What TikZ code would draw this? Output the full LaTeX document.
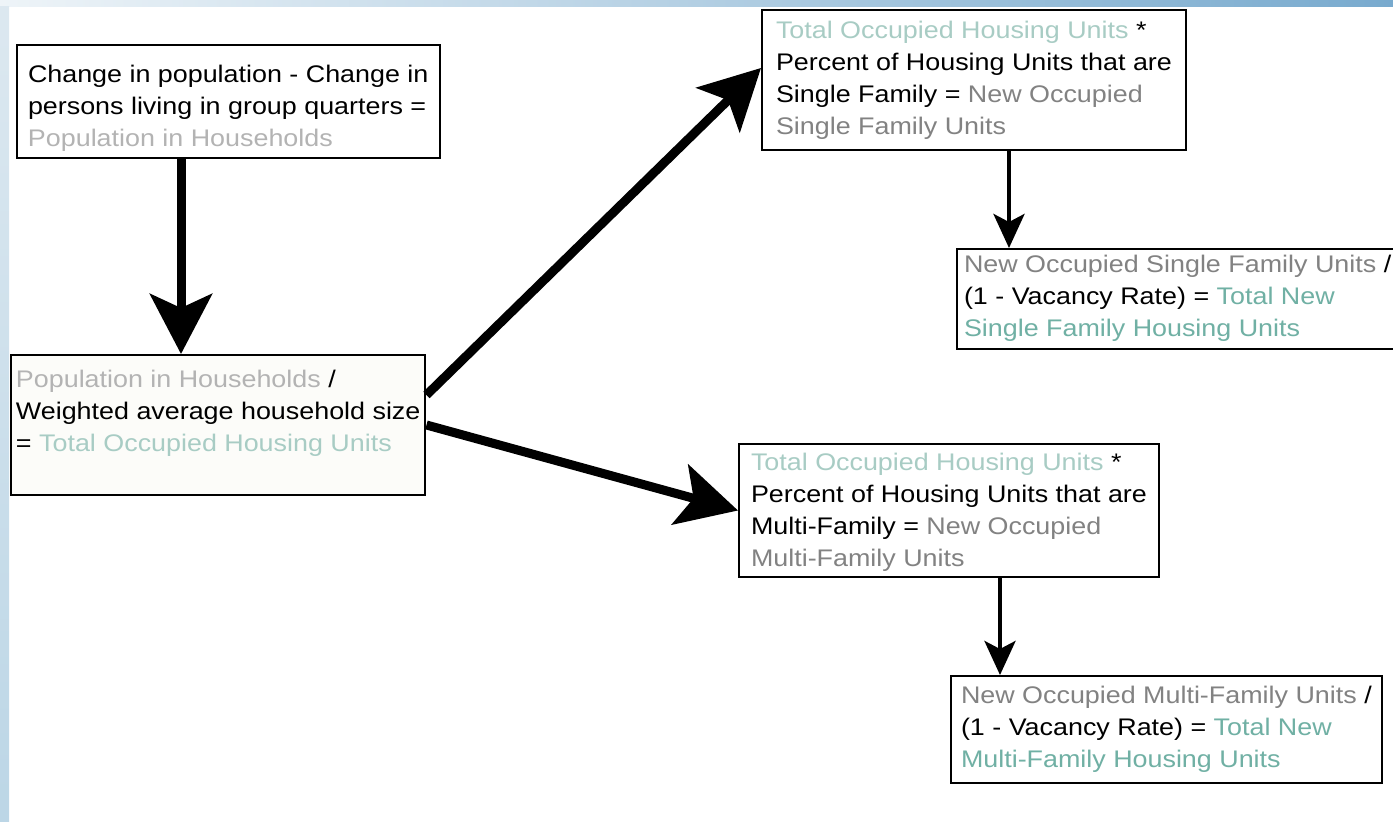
\documentclass[tikz,border=0pt]{standalone}
\usepackage{fontspec}
\setmainfont{Liberation Sans}[FakeStretch=1.12]
\usepackage{xcolor}
\usetikzlibrary{arrows.meta}

\definecolor{hhgray}{HTML}{B3B3B3}
\definecolor{unitteal}{HTML}{A8CCC4}
\definecolor{newgray}{HTML}{828282}
\definecolor{totalteal}{HTML}{70B0A4}
\definecolor{bandpale}{HTML}{EEF4F8}
\definecolor{bandblue}{HTML}{78AACE}
\definecolor{sidetop}{HTML}{DCE8F0}
\definecolor{sidebottom}{HTML}{BCD6E6}
\definecolor{boxcream}{HTML}{FCFCF9}

\begin{document}
\begin{tikzpicture}[
    x=0.5pt, y=-0.5pt,
    calcbox/.style={rectangle, draw, line width=1pt, fill=white, anchor=north west, align=left, inner ysep=0pt, font=\fontsize{12}{16}\selectfont},
    bigarrow/.style={line width=4.5pt, -{Stealth[length=30pt, width=31pt, inset=7pt]}},
    smallarrow/.style={line width=2.2pt, -{Stealth[length=17pt, width=15.5pt, inset=4pt]}}
]
\useasboundingbox (0,0) rectangle (1393,822);
\shade [left color=bandpale, right color=bandblue] (0,0) rectangle (1393,7);
\shade [top color=sidetop, bottom color=sidebottom] (0,7) rectangle (9,822);

\node [calcbox, inner xsep=5.5pt, text height=50.75pt, text depth=5.5pt] (popchange) at (16,44.5) {Change in population - Change in\\persons living in group quarters =\\\textcolor{hhgray}{Population in Households}};
\node [calcbox, fill=boxcream, inner xsep=2.5pt, text height=48.5pt, text depth=21.5pt] (hhsize) at (10,354) {\textcolor{hhgray}{Population in Households} /\\Weighted average household size\\= \textcolor{unitteal}{Total Occupied Housing Units}};
\node [calcbox, inner xsep=7pt, text height=62.25pt, text depth=7.75pt] (sfshare) at (761,9) {\textcolor{unitteal}{Total Occupied Housing Units} *\\Percent of Housing Units that are\\Single Family = \textcolor{newgray}{New Occupied}\\\textcolor{newgray}{Single Family Units}};
\node [calcbox, inner xsep=3.5pt, text height=44pt, text depth=6pt] (sftotal) at (956,248) {\textcolor{newgray}{New Occupied Single Family Units} /\\(1 - Vacancy Rate) = \textcolor{totalteal}{Total New}\\\textcolor{totalteal}{Single Family Housing Units}};
\node [calcbox, inner xsep=6pt, text height=61.5pt, text depth=5pt] (mfshare) at (738,443) {\textcolor{unitteal}{Total Occupied Housing Units} *\\Percent of Housing Units that are\\Multi-Family = \textcolor{newgray}{New Occupied}\\\textcolor{newgray}{Multi-Family Units}};
\node [calcbox, inner xsep=5pt, text height=46pt, text depth=7.5pt] (mftotal) at (950,675) {\textcolor{newgray}{New Occupied Multi-Family Units} /\\(1 - Vacancy Rate) = \textcolor{totalteal}{Total New}\\\textcolor{totalteal}{Multi-Family Housing Units}};

\draw [bigarrow] ([xshift=82.5pt]popchange.south west) -- ([xshift=85.5pt]hhsize.north west);
\draw [bigarrow] ([yshift=15pt]hhsize.east) -- ([yshift=6pt]sfshare.west);
\draw [bigarrow] (hhsize.east) -- (mfshare.west);
\draw [smallarrow] ([xshift=124pt]sfshare.south west) -- ([xshift=26.5pt]sftotal.north west);
\draw [smallarrow] ([xshift=131pt]mfshare.south west) -- ([xshift=25pt]mftotal.north west);

\end{tikzpicture}
\end{document}
